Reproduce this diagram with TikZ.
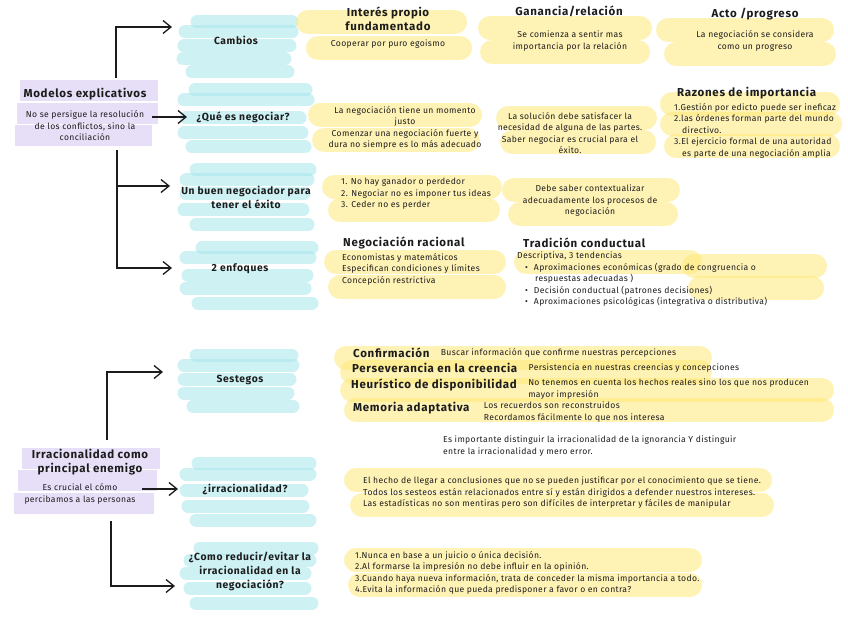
\documentclass[tikz,border=0pt]{standalone}
\usepackage{fontspec}
\setmainfont{Fira Sans}
\newfontfamily\spacedfont[LetterSpace=6]{Fira Sans}
\newfontfamily\notefont[LetterSpace=4]{Fira Sans}
\usetikzlibrary{arrows.meta, positioning}
\definecolor{hlcyan}{HTML}{A6E6EC}
\definecolor{hlyellow}{HTML}{FFE97A}
\definecolor{hlpurple}{HTML}{E2D6F7}
\definecolor{inkblack}{HTML}{1C1C1C}
\tikzset{
  topicnode/.style={
    font=\spacedfont\bfseries\fontsize{10.3}{14}\selectfont,
    align=center,
    text=inkblack,
    inner sep=1pt
  },
  headnode/.style={
    font=\spacedfont\bfseries\fontsize{11.5}{14.5}\selectfont,
    align=center,
    text=inkblack,
    inner sep=1pt
  },
  notenode/.style={
    font=\notefont\fontsize{8.6}{11.5}\selectfont,
    align=center,
    text=inkblack,
    inner sep=1pt
  },
  cyanstroke/.style={
    draw=hlcyan,
    line width=13pt,
    line cap=round,
    opacity=0.55
  },
  yellowstroke/.style={
    draw=hlyellow,
    line width=24pt,
    line cap=round,
    opacity=0.55
  },
  purplestroke/.style={
    draw=hlpurple,
    line width=21pt,
    line cap=butt,
    opacity=0.8
  },
  branch/.style={
    -{Straight Barb[length=8pt, width=13pt]},
    line width=1.3pt,
    draw=inkblack
  }
}

\begin{document}
\begin{tikzpicture}[x=1pt, y=-1pt]

  \fill[white] (0,0) rectangle (848,636);

  % Highlighter strokes
  \foreach \y/\a/\b in {91/20/158, 114/17/158, 136/15/152, 458/22/160, 480/18/157, 503/14/154}
    \draw[purplestroke] (\a,\y) -- (\b,\y);

  \foreach \y/\a/\b in {22/197/292, 32/185/292, 46/184/290, 59/183/285, 72/192/288,
                        90/195/306, 100/184/308, 118/186/300, 133/184/302, 147/192/305,
                        170/196/310, 180/186/308, 194/186/304, 210/184/303, 225/196/308,
                        248/202/312, 258/186/310, 275/188/307, 288/186/305, 303/198/312,
                        355/196/292, 365/184/293, 379/184/290, 393/184/288, 406/193/293,
                        463/198/310, 474/186/310, 490/186/302, 506/188/303, 520/196/310,
                        548/200/312, 560/190/310, 573/186/305, 588/190/305, 603/196/312}
    \draw[cyanstroke] (\a,\y) -- (\b,\y);

  \foreach \y/\a/\b in {22/308/455, 48/318/460,
                        28/490/640, 52/492/638,
                        30/668/822, 54/676/824,
                        115/320/470, 140/324/468,
                        118/508/645, 142/512/644,
                        104/672/828, 124/672/830, 146/676/828,
                        187/334/490, 210/340/488,
                        190/514/668, 214/520/666,
                        262/336/494, 287/340/494,
                        262/526/690, 266/694/815, 288/700/812,
                        358/346/700, 372/352/700, 390/352/822, 410/356/822,
                        480/356/760, 505/362/762,
                        560/356/690, 585/360/690}
    \draw[yellowstroke] (\a,\y) -- (\b,\y);

  % Roots
  \node (modelos) [headnode] at (85,94) {Modelos explicativos};
  \node (modelosnote) [notenode] at (85,126) {No se persigue la resolución\\de los conflictos, sino la\\conciliación};

  \node (irrac) [headnode] at (90,462) {Irracionalidad como\\principal enemigo};
  \node (irracnote) [notenode] at (80,494) {Es crucial el cómo\\percibamos a las personas};

  % Topics
  \node (cambios) [topicnode] at (236,40) {Cambios};
  \node (negociar) [topicnode] at (243,117) {¿Qué es negociar?};
  \node (exito) [topicnode] at (246,197) {Un buen negociador para\\tener el éxito};
  \node (enfoques) [topicnode] at (240,269) {2 enfoques};
  \node (sestegos) [topicnode] at (240,380) {Sestegos};
  \node (irracionalidad) [topicnode] at (245,489) {¿irracionalidad?};
  \node (reducir) [topicnode] at (250,571) {¿Como reducir/evitar la\\irracionalidad en la\\negociación?};

  % Cambios
  \node (interes) [headnode] at (388,19) {Interés propio\\fundamentado};
  \node (interesnote) [notenode] at (388,44) {Cooperar por puro egoismo};
  \node (ganancia) [headnode] at (569,11) {Ganancia/relación};
  \node (gananciasnote) [notenode] at (570,41) {Se comienza a sentir mas\\importancia por la relación};
  \node (acto) [headnode] at (755,14) {Acto /progreso};
  \node (actonote) [notenode] at (755,41) {La negociación se considera\\como un progreso};

  % Que es negociar
  \node (momento) [notenode] at (405,128) {La negociación tiene un momento\\justo\\Comenzar una negociación fuerte y\\dura no siempre es lo más adecuado};
  \node (solucion) [notenode] at (570,133) {La solución debe satisfacer la\\necesidad de alguna de las partes.\\Saber negociar es crucial para el\\éxito.};
  \node (razones) [headnode, anchor=west] at (676,93) {Razones de importancia};
  \node (razoneslist) [notenode, align=left, anchor=north west] at (673,102) {1.Gestión por edicto puede ser ineficaz\\2.las órdenes forman parte del mundo\\\hspace*{8pt}directivo.\\3.El ejercicio formal de una autoridad\\\hspace*{8pt}es parte de una negociación amplia};

  % Buen negociador
  \node (reglas) [notenode, align=left, anchor=north west] at (340,177) {1. No hay ganador o perdedor\\2. Negociar no es imponer tus ideas\\3. Ceder no es perder};
  \node (contexto) [notenode] at (590,201) {Debe saber contextualizar\\adecuadamente los procesos de\\negociación};

  % Enfoques
  \node (racional) [headnode, anchor=west] at (342,243) {Negociación racional};
  \node (racionalnote) [notenode, align=left, anchor=north west] at (341,252) {Economistas y matemáticos\\Especifican condiciones y límites\\Concepción restrictiva};
  \node (conductual) [headnode, anchor=west] at (522,243) {Tradición conductual};
  \node (descriptiva) [notenode, anchor=west] at (516,256) {Descriptiva, 3 tendencias};
  \node (tendencias) [notenode, align=left, anchor=north west] at (524,262) {\textbullet\hspace{6pt}Aproximaciones económicas (grado de congruencia o\\\hspace*{10pt}respuestas adecuadas )\\\textbullet\hspace{6pt}Decisión conductual (patrones decisiones)\\\textbullet\hspace{6pt}Aproximaciones psicológicas (integrativa o distributiva)};

  % Sestegos
  \node (confirma) [headnode, anchor=west] at (352,353) {Confirmación};
  \node (confirmanote) [notenode, right=9pt of confirma] {Buscar información que confirme nuestras percepciones};
  \node (persev) [headnode, anchor=west] at (351,368) {Perseverancia en la creencia};
  \node (persevnote) [notenode, right=9pt of persev] {Persistencia en nuestras creencias y concepciones};
  \node (heuristico) [headnode, anchor=west] at (350,385) {Heurístico de disponibilidad};
  \node (heuristiconote) [notenode, align=left, right=9pt of heuristico.north east, anchor=north west] {No tenemos en cuenta los hechos reales sino los que nos producen\\mayor impresión};
  \node (memoria) [headnode, anchor=west] at (352,408) {Memoria adaptativa};
  \node (memorianote) [notenode, align=left, right=12pt of memoria.north east, anchor=north west] {Los recuerdos son reconstruidos\\Recordamos fácilmente lo que nos interesa};

  % Irracionalidad
  \node (distinguir) [notenode, align=left, anchor=north west] at (442,435) {Es importante distinguir la irracionalidad de la ignorancia Y distinguir\\entre la irracionalidad y mero error.};
  \node (conclusiones) [notenode, align=left, anchor=north west] at (362,476) {El hecho de llegar a conclusiones que no se pueden justificar por el conocimiento que se tiene.\\Todos los sesteos están relacionados entre sí y están dirigidos a defender nuestros intereses.\\Las estadísticas no son mentiras pero son difíciles de interpretar y fáciles de manipular};
  \node (consejos) [notenode, align=left, anchor=north west] at (354,550) {1.Nunca en base a un juicio o única decisión.\\2.Al formarse la impresión no debe influir en la opinión.\\3.Cuando haya nueva información, trata de conceder la misma importancia a todo.\\4.Evita la información que pueda predisponer a favor o en contra?};

  % Connectors
  \coordinate (modelostop) at (116,78);
  \coordinate (modelosright) at (152,117);
  \coordinate (modelosbottom) at (117,150);
  \coordinate (cambiosin) at (172,27);
  \coordinate (negociarin) at (187,117);
  \coordinate (exitoin) at (170,186);
  \coordinate (enfoquesin) at (172,268);
  \draw [branch] (modelostop) |- (cambiosin);
  \draw [branch] (modelosright) -- (negociarin);
  \draw [branch] (modelosbottom) |- (enfoquesin);
  \draw [branch] (modelosbottom |- exitoin) -- (exitoin);

  \coordinate (irractop) at (107,440);
  \coordinate (irracright) at (142,489);
  \coordinate (irracbottom) at (111,521);
  \coordinate (sestegosin) at (163,372);
  \coordinate (irracionalidadin) at (178,489);
  \coordinate (reducirin) at (175,586);
  \draw [branch] (irractop) |- (sestegosin);
  \draw [branch] (irracright) -- (irracionalidadin);
  \draw [branch] (irracbottom) |- (reducirin);

\end{tikzpicture}
\end{document}
